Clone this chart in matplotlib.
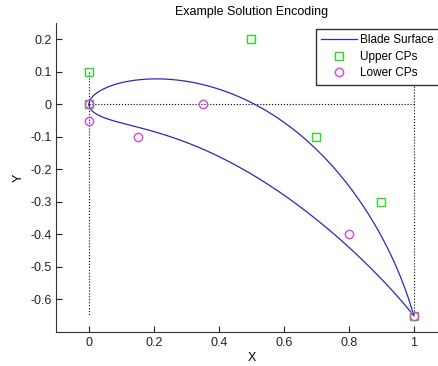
import matplotlib.pyplot as plt
import numpy as np
from math import comb

plt.rcParams['font.family'] = ['Liberation Sans', 'DejaVu Sans']

# control points
upper_x = [0, 0, 0.5, 0.7, 0.9, 1.0]
upper_y = [0, 0.1, 0.2, -0.1, -0.3, -0.65]
lower_x = [0, 0, 0.15, 0.35, 0.8, 1.0]
lower_y = [0, -0.05, -0.1, 0, -0.4, -0.65]


def bezier(px, py, n=200):
    # blade surface is the Bezier curve through its control points
    t = np.linspace(0, 1, n)
    k = len(px) - 1
    bx = np.zeros(n)
    by = np.zeros(n)
    for i in range(k + 1):
        b = comb(k, i) * t**i * (1 - t)**(k - i)
        bx += b * px[i]
        by += b * py[i]
    return bx, by


ux, uy = bezier(upper_x, upper_y)
lx, ly = bezier(lower_x, lower_y)
blade_x = np.concatenate([ux, lx[::-1]])
blade_y = np.concatenate([uy, ly[::-1]])

fig = plt.figure(figsize=(4.39, 3.66), dpi=100)
ax = fig.add_axes([0.1287, 0.0929, 0.888, 0.844])

# dotted reference lines (chord box)
ax.plot([0, 1], [0, 0], ':', color='black', lw=0.8)
ax.plot([0, 0], [0.1, -0.65], ':', color='black', lw=0.8)
ax.plot([1, 1], [0.2, -0.65], ':', color='black', lw=0.8)

ax.plot(blade_x, blade_y, color='#2a2ab8', lw=0.9, label='Blade Surface')
ax.plot(upper_x, upper_y, 's', ls='none', mfc='none', mec='#22dd22',
        ms=6, mew=1, label='Upper CPs')
ax.plot(lower_x, lower_y, 'o', ls='none', mfc='none', mec='#dd44dd',
        ms=6, mew=1, label='Lower CPs')

ax.set_xlim(-0.1, 1.1)
ax.set_ylim(-0.7, 0.25)
ax.set_xticks([0, 0.2, 0.4, 0.6, 0.8, 1])
ax.set_xticklabels(['0', '0.2', '0.4', '0.6', '0.8', '1'])
ax.set_yticks([-0.6, -0.5, -0.4, -0.3, -0.2, -0.1, 0, 0.1, 0.2])
ax.set_yticklabels(['-0.6', '-0.5', '-0.4', '-0.3', '-0.2', '-0.1', '0',
                    '0.1', '0.2'])
ax.tick_params(direction='in', length=4, labelsize=9, colors='#222222')
ax.spines['top'].set_visible(False)
ax.spines['right'].set_visible(False)
ax.spines['left'].set_color('#333333')
ax.spines['bottom'].set_color('#333333')

ax.set_title('Example Solution Encoding', fontsize=9, pad=6)
ax.set_xlabel('X', fontsize=9, labelpad=2)
ax.set_ylabel('Y', fontsize=9, labelpad=4)

leg = ax.legend(loc='upper left', bbox_to_anchor=(316 / 439, 1 - 29 / 366),
                bbox_transform=fig.transFigure, fontsize=8.5, fancybox=False,
                framealpha=1, edgecolor='#333333', borderaxespad=0,
                handlelength=3.0, handletextpad=0.25, borderpad=0.45,
                labelspacing=0.38)
leg.get_frame().set_linewidth(1)

fig.savefig('out.png', dpi=100)
